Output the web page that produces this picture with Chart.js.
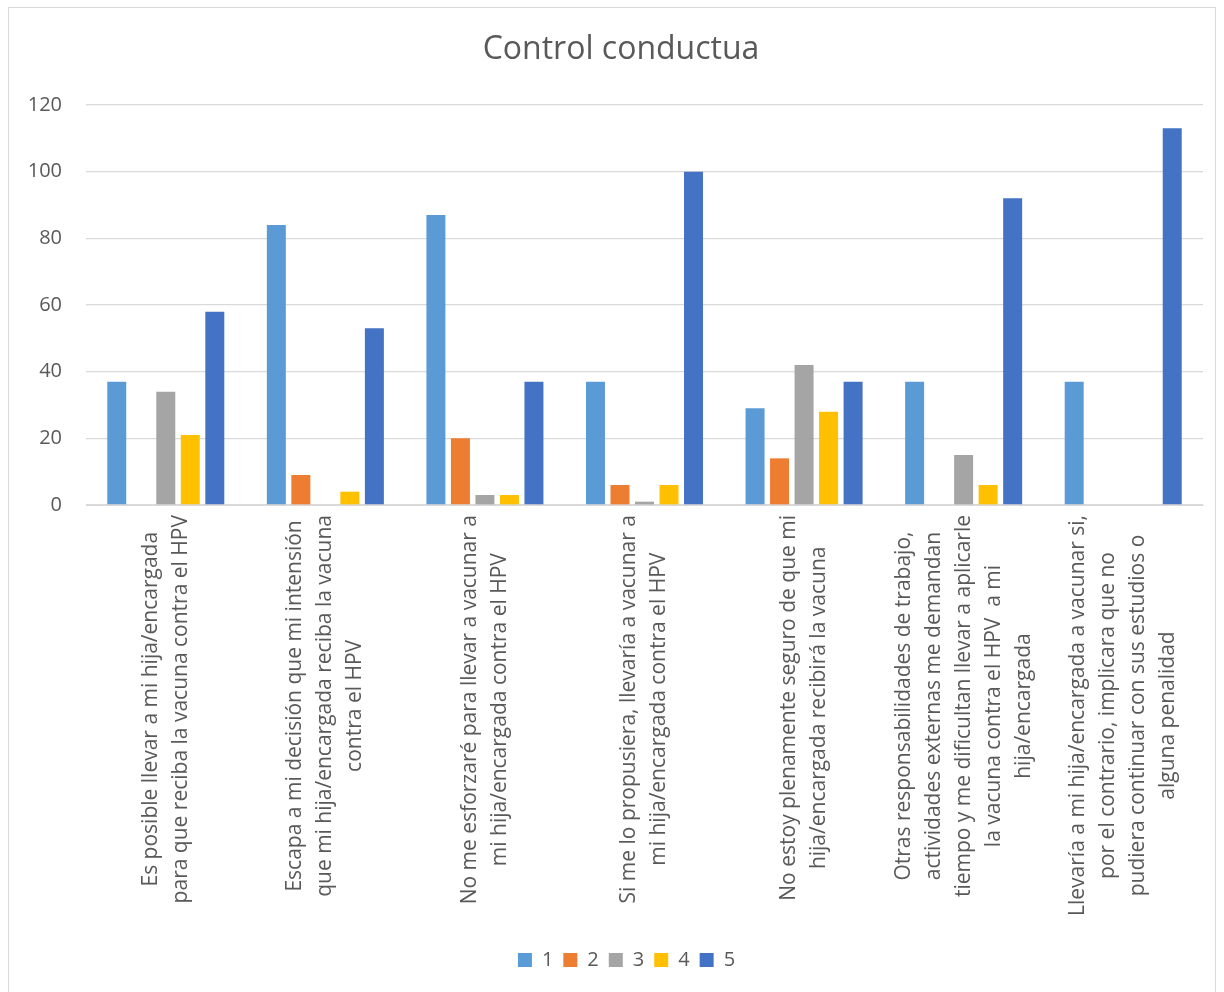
<!DOCTYPE html>
<html>
<head>
<meta charset="utf-8">
<script src="https://cdn.jsdelivr.net/npm/chart.js@4/dist/chart.umd.min.js"></script>
<style>
  html, body { margin: 0; padding: 0; background: #ffffff; }
  #wrap { position: relative; width: 1224px; height: 992px; }
</style>
</head>
<body>
<div id="wrap"><canvas id="c" width="1224" height="992"></canvas></div>
<script>
const titleText = "Control conductua";
const categories = [
  ["Es posible llevar a mi hija/encargada", "para que reciba la vacuna contra el HPV"],
  ["Escapa a mi decisión que mi intensión", "que mi hija/encargada reciba la vacuna", "contra el HPV"],
  ["No me esforzaré para llevar a vacunar a", "mi hija/encargada contra el HPV"],
  ["Si me lo propusiera, llevaría a vacunar a", "mi hija/encargada contra el HPV"],
  ["No estoy plenamente seguro de que mi", "hija/encargada recibirá la vacuna"],
  ["Otras responsabilidades de trabajo,", "actividades externas me demandan", "tiempo y me dificultan llevar a aplicarle", "la vacuna contra el HPV  a mi", "hija/encargada"],
  ["Llevaría a mi hija/encargada a vacunar si,", "por el contrario, implicara que no", "pudiera continuar con sus estudios o", "alguna penalidad"]
];
const seriesNames = ["1", "2", "3", "4", "5"];
const series1 = [37, 84, 87, 37, 29, 37, 37];
const series2 = [0, 9, 20, 6, 14, 0, 0];
const series3 = [34, 0, 3, 1, 42, 15, 0];
const series4 = [21, 4, 3, 6, 28, 6, 0];
const series5 = [58, 53, 37, 100, 37, 92, 113];
const yTicks = [0, 20, 40, 60, 80, 100, 120];

const colors = ["#5B9BD5", "#ED7D31", "#A5A5A5", "#FFC000", "#4472C4"];
const allSeries = [series1, series2, series3, series4, series5];
const FONT = "'Open Sans', 'Liberation Sans', sans-serif";
const TEXT = "#595959";

const framePlugin = {
  id: 'frame',
  afterLayout(chart) {
    if (chart.legend) {
      chart.legend.left += 25;
      chart.legend.right += 25;
    }
  },
  beforeDraw(chart) {
    const ctx = chart.ctx;
    ctx.save();
    ctx.fillStyle = '#ffffff';
    ctx.fillRect(0, 0, chart.width, chart.height);
    ctx.strokeStyle = '#D9D9D9';
    ctx.lineWidth = 1;
    ctx.strokeRect(8.5, 7.5, 1207, 990);
    ctx.fillStyle = TEXT;
    ctx.font = "32px " + FONT;
    ctx.textAlign = 'center';
    ctx.textBaseline = 'middle';
    ctx.fillText(titleText, 621, 50);
    ctx.restore();
  }
};

const catLabelPlugin = {
  id: 'catLabels',
  afterDraw(chart) {
    const ctx = chart.ctx;
    const xs = chart.scales.x;
    const top = chart.chartArea.bottom + 10;
    const lh = 30;
    ctx.save();
    ctx.fillStyle = TEXT;
    ctx.font = "21px " + FONT;
    ctx.textAlign = 'center';
    ctx.textBaseline = 'middle';
    categories.forEach((lines, i) => {
      const x = xs.getPixelForValue(i);
      let W = 0;
      lines.forEach(l => { W = Math.max(W, ctx.measureText(l).width); });
      ctx.save();
      ctx.translate(x, top);
      ctx.rotate(-Math.PI / 2);
      const n = lines.length;
      lines.forEach((l, j) => {
        ctx.fillText(l, -W / 2, (j - (n - 1) / 2) * lh);
      });
      ctx.restore();
    });
    ctx.restore();
  }
};

new Chart(document.getElementById('c'), {
  type: 'bar',
  data: {
    labels: categories.map(c => c.join(' ')),
    datasets: seriesNames.map((name, k) => ({
      label: name,
      data: allSeries[k],
      backgroundColor: colors[k],
      borderWidth: 0,
      categoryPercentage: 0.768,
      barPercentage: 0.775
    }))
  },
  options: {
    responsive: false,
    animation: false,
    devicePixelRatio: 1,
    layout: { padding: { top: 105, right: 21, left: 0, bottom: 12 } },
    plugins: {
      title: { display: false },
      tooltip: { enabled: false },
      legend: {
        position: 'bottom',
        labels: {
          boxWidth: 14,
          boxHeight: 14,
          padding: 10,
          color: TEXT,
          font: { family: FONT, size: 20 }
        }
      }
    },
    scales: {
      x: {
        grid: { display: false },
        border: { display: true, color: '#D9D9D9' },
        ticks: { display: false },
        afterFit(scale) { scale.height = 435; }
      },
      y: {
        min: 0,
        max: 120,
        afterBuildTicks(scale) { scale.ticks = yTicks.map(v => ({ value: v })); },
        afterFit(scale) { scale.width = 86; },
        grid: { color: '#D9D9D9', lineWidth: 1.3, drawTicks: false },
        border: { display: false },
        ticks: {
          padding: 24,
          color: TEXT,
          font: { family: FONT, size: 20 }
        }
      }
    }
  },
  plugins: [framePlugin, catLabelPlugin]
});
</script>
</body>
</html>
